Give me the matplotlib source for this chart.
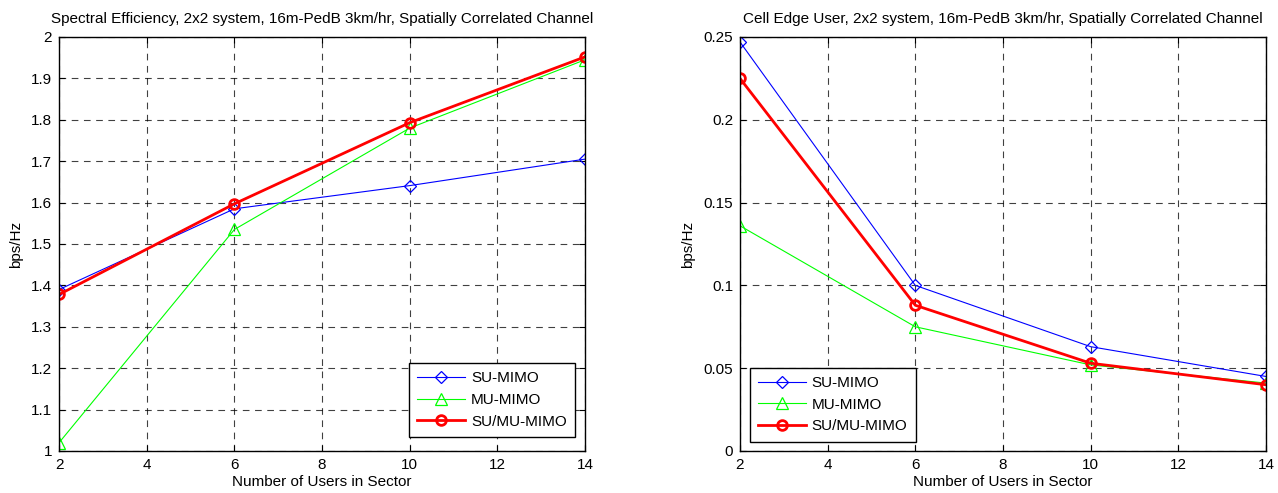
import matplotlib
matplotlib.use("Agg")
import matplotlib.pyplot as plt

plt.rcParams['font.family'] = ['Liberation Sans', 'DejaVu Sans']

users = [2, 6, 10, 14]
se_su = [1.390, 1.585, 1.641, 1.705]
se_mu = [1.020, 1.535, 1.780, 1.945]
se_sumu = [1.378, 1.597, 1.793, 1.952]

ce_su = [0.247, 0.100, 0.063, 0.045]
ce_mu = [0.136, 0.075, 0.052, 0.041]
ce_sumu = [0.225, 0.088, 0.053, 0.040]

labels = ['SU-MIMO', 'MU-MIMO', 'SU/MU-MIMO']
title_se = 'Spectral Efficiency, 2x2 system, 16m-PedB 3km/hr, Spatially Correlated Channel'
title_ce = 'Cell Edge User, 2x2 system, 16m-PedB 3km/hr, Spatially Correlated Channel'

fig = plt.figure(figsize=(12.78, 4.93), dpi=100)
ax1 = fig.add_axes([0.0462, 0.0852, 0.4116, 0.8398])
ax2 = fig.add_axes([0.579, 0.0852, 0.4116, 0.8398])

fs = 11

def draw(ax, su, mu, sumu, title, ylim, yticks, yticklabels, legloc, anchor):
    ax.plot(users, su, color='#0000ff', lw=0.8, marker='D', ms=6, mfc='none', mec='#0000ff', mew=0.9, label=labels[0])
    ax.plot(users, mu, color='#00ff00', lw=0.8, marker='^', ms=8, mfc='none', mec='#00ff00', mew=0.9, label=labels[1])
    ax.plot(users, sumu, color='#ff0000', lw=2.0, marker='o', ms=7, mfc='none', mec='#ff0000', mew=2.0, label=labels[2])
    ax.set_xlim(2, 14)
    ax.set_ylim(*ylim)
    ax.set_xticks(range(2, 15, 2))
    ax.set_yticks(yticks)
    ax.set_yticklabels(yticklabels)
    ax.grid(True, color='black', linestyle=(0, (6, 5)), lw=0.8, alpha=0.75)
    ax.tick_params(direction='in', length=4, labelsize=fs, top=True, right=True, pad=5)
    for s in ax.spines.values():
        s.set_linewidth(1.0)
    ax.set_title(title, fontsize=fs, pad=10)
    ax.set_xlabel('Number of Users in Sector', fontsize=fs, labelpad=2)
    ax.set_ylabel('bps/Hz', fontsize=fs, labelpad=6)
    leg = ax.legend(loc=legloc, bbox_to_anchor=anchor, fontsize=fs, fancybox=False, framealpha=1,
                    edgecolor='black', handlelength=3.1, handletextpad=0.4, borderpad=0.55,
                    labelspacing=0.5, borderaxespad=0)
    leg.get_frame().set_linewidth(1.0)

draw(ax1, se_su, se_mu, se_sumu, title_se, (1, 2),
     [1 + 0.1 * i for i in range(11)],
     ['1', '1.1', '1.2', '1.3', '1.4', '1.5', '1.6', '1.7', '1.8', '1.9', '2'],
     'lower right', (0.981, 0.034))
draw(ax2, ce_su, ce_mu, ce_sumu, title_ce, (0, 0.25),
     [0, 0.05, 0.1, 0.15, 0.2, 0.25],
     ['0', '0.05', '0.1', '0.15', '0.2', '0.25'],
     'lower left', (0.019, 0.022))

fig.savefig('out.png', dpi=100)
